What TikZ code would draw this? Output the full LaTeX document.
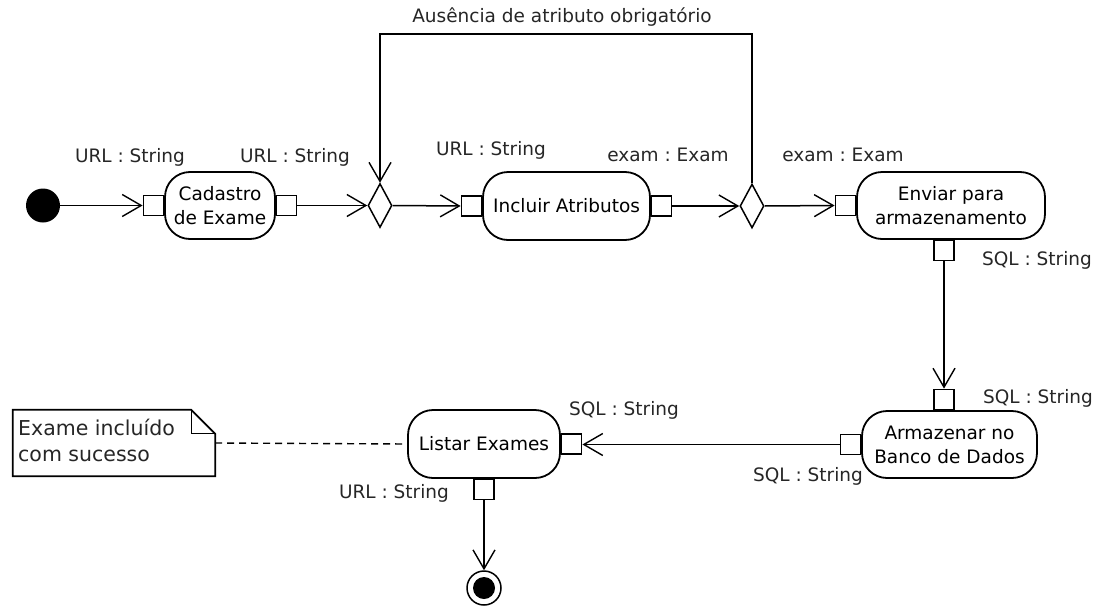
\documentclass[tikz,border=0pt]{standalone}
\usepackage{fontspec}
\setmainfont{DejaVu Sans}
\usetikzlibrary{arrows.meta,shapes.geometric,calc}
\frenchspacing
\begin{document}
\begin{tikzpicture}[x=1pt,y=-1pt,
  font=\fontsize{18.5}{24}\selectfont,
  action/.style={draw, line width=1.8pt, rounded corners=25pt, align=center, inner sep=0pt},
  pinbox/.style={draw, fill=white, line width=1.5pt, minimum size=20pt, inner sep=0pt},
  decision/.style={draw, diamond, line width=1.5pt, minimum width=24pt, minimum height=44pt, inner sep=0pt},
  flow/.style={line width=1.5pt, -{Straight Barb[length=19pt,width=22pt,line width=1.4pt]}},
  lbl/.style={inner sep=0pt, text=black!85},
  notelink/.style={line width=1.4pt, dash pattern=on 7pt off 5pt},
]
\useasboundingbox (0,0) rectangle (1099,605);

% start and end
\node[circle, fill, minimum size=34pt, inner sep=0pt] (init) at (43,205.5) {};
\node[circle, draw, line width=1.5pt, minimum size=34pt, inner sep=0pt] (final) at (484,588) {};
\fill (final.center) circle (11pt);

% actions
\node[action, minimum width=110pt, minimum height=67pt] (cad) at (220,205.5) {Cadastro\\de Exame};
\node[action, minimum width=167pt, minimum height=68pt] (inc) at (566.5,206) {Incluir Atributos};
\node[action, minimum width=188pt, minimum height=67pt] (env) at (951,205.5) {Enviar para\\armazenamento};
\node[action, minimum width=175pt, minimum height=67pt] (arm) at (949.5,444.5) {Armazenar no\\Banco de Dados};
\node[action, minimum width=152pt, minimum height=68pt] (lis) at (484,444) {Listar Exames};

% decisions
\node[decision] (d1) at (380,205.5) {};
\node[decision] (d2) at (752,206) {};

% pins
\node[pinbox, anchor=east]  (cin)  at (cad.west) {};
\node[pinbox, anchor=west]  (cout) at (cad.east) {};
\node[pinbox, anchor=east]  (iin)  at (inc.west) {};
\node[pinbox, anchor=west]  (iout) at (inc.east) {};
\node[pinbox, anchor=east]  (ein)  at (env.west) {};
\node[pinbox, anchor=north] (eout) at ($(env.south)+(-7,0)$) {};
\node[pinbox, anchor=south] (ain)  at (eout.center |- arm.north) {};
\node[pinbox, anchor=east]  (aout) at (arm.west) {};
\node[pinbox, anchor=west]  (lin)  at (lis.east) {};
\node[pinbox, anchor=north] (lout) at (lis.south) {};

% pin labels
\node[lbl] (l1) at (130,157) {URL : String};
\node[lbl] (l2) at (295,157) {URL : String};
\node[lbl] (l3) at (491,150) {URL : String};
\node[lbl] (l4) at (668,155) {exam : Exam};
\node[lbl] (l5) at (843,155) {exam : Exam};
\node[lbl] (l6) at (1037,260) {SQL : String};
\node[lbl] (l7) at (1038,398) {SQL : String};
\node[lbl] (l8) at (624,410) {SQL : String};
\node[lbl] (l9) at (808,476) {SQL : String};
\node[lbl] (l10) at (394,493) {URL : String};

% note
\node[minimum width=202pt, minimum height=66pt, inner sep=0pt] (note) at (114,443) {};
\draw[line width=1.8pt, line join=miter]
  (note.north west) -- ($(note.north east)+(-24,0)$) -- ($(note.north east)+(0,24)$)
  -- (note.south east) -- (note.south west) -- cycle;
\draw[line width=1.3pt] ($(note.north east)+(-24,0)$) -- ++(0,24) -- ($(note.north east)+(0,24)$);
\node[anchor=west, align=left, inner sep=0pt, text=black!85, font=\fontsize{20.5}{26}\selectfont] (notetext) at (18,440) {Exame incluído\\com sucesso};

% flows
\draw[flow] (init) -- (cin.west);
\draw[flow] (cout.east) -- (d1.west);
\draw[flow] (d1.east) -- (iin.west);
\draw[flow] (iout.east) -- (d2.west);
\draw[flow] (d2.east) -- (ein.west);
\coordinate (loopR) at (d2.north |- 0,34);
\coordinate (loopL) at (d1.north |- 0,34);
\draw[flow] (d2.north) -- (loopR) -- (loopL) -- (d1.north);
\node[lbl] (looplbl) at (562,17) {Ausência de atributo obrigatório};
\draw[flow, line width=1.2pt] (eout.south) -- (ain.north);
\draw[flow] (aout.west) -- (aout.west -| lin.east);
\draw[flow] (lout.south) -- (final.north);
\draw[notelink] (note.east) -- (lis.west);
\end{tikzpicture}
\end{document}
